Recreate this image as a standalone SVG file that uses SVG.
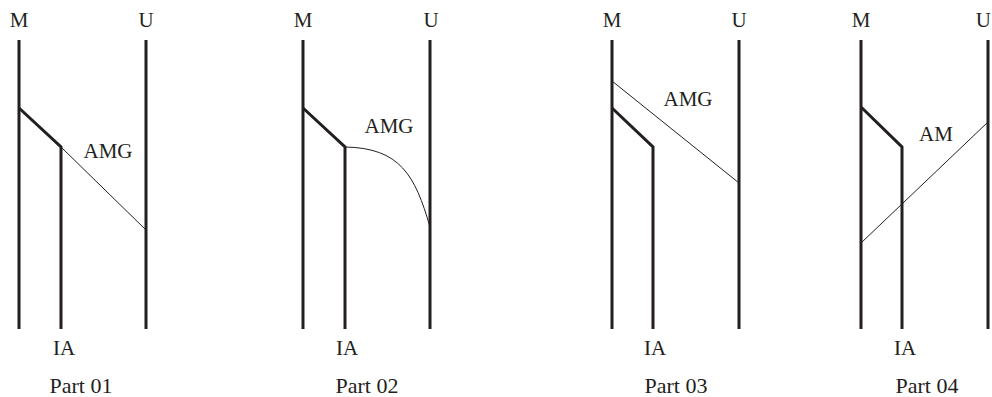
<svg xmlns="http://www.w3.org/2000/svg" width="992" height="397" viewBox="0 0 992 397">
<style>
.bg{fill:#ffffff}
.thick{stroke:#231f20;stroke-width:3;fill:none;stroke-linejoin:miter}
.thin{stroke:#231f20;stroke-width:1;fill:none}
text{font-family:"Liberation Serif","Times New Roman",serif;fill:#231f20;font-size:21px;text-anchor:middle}
.cap{font-size:22px}
</style>
<rect class="bg" x="0" y="0" width="992" height="397"/>

<g id="part01">
  <g id="p1-M"><line class="thick" x1="19" y1="40" x2="19" y2="329"/><text x="19" y="27">M</text></g>
  <g id="p1-U"><line class="thick" x1="146" y1="40" x2="146" y2="329"/><text x="146" y="27">U</text></g>
  <g id="p1-IA"><polyline class="thick" points="19,108 61,147 61,329"/><text x="64" y="355">IA</text></g>
  <g id="p1-conn"><line class="thin" x1="61" y1="147" x2="146" y2="230"/><text x="108" y="158">AMG</text></g>
  <text class="cap" x="81" y="393">Part 01</text>
</g>

<g id="part02">
  <g id="p2-M"><line class="thick" x1="303" y1="40" x2="303" y2="329"/><text x="303" y="27">M</text></g>
  <g id="p2-U"><line class="thick" x1="430" y1="40" x2="430" y2="329"/><text x="431" y="27">U</text></g>
  <g id="p2-IA"><polyline class="thick" points="303,108 345,147 345,329"/><text x="347" y="355">IA</text></g>
  <g id="p2-conn"><path class="thin" d="M345,147 C400,148 415,175 430,227"/><text x="389" y="133">AMG</text></g>
  <text class="cap" x="367" y="393">Part 02</text>
</g>

<g id="part03">
  <g id="p3-M"><line class="thick" x1="612" y1="40" x2="612" y2="329"/><text x="612" y="27">M</text></g>
  <g id="p3-U"><line class="thick" x1="739" y1="40" x2="739" y2="329"/><text x="739" y="27">U</text></g>
  <g id="p3-IA"><polyline class="thick" points="612,108 653,147 653,329"/><text x="655" y="355">IA</text></g>
  <g id="p3-conn"><line class="thin" x1="612" y1="81" x2="739" y2="183"/><text x="688" y="106">AMG</text></g>
  <text class="cap" x="676" y="393">Part 03</text>
</g>

<g id="part04">
  <g id="p4-M"><line class="thick" x1="861" y1="40" x2="861" y2="329"/><text x="861" y="27">M</text></g>
  <g id="p4-U"><line class="thick" x1="988" y1="40" x2="988" y2="329"/><text x="991" y="27" style="text-anchor:end">U</text></g>
  <g id="p4-IA"><polyline class="thick" points="861,107 902,147 902,329"/><text x="905" y="355">IA</text></g>
  <g id="p4-conn"><line class="thin" x1="861" y1="243" x2="988" y2="122"/><text x="936" y="141">AM</text></g>
  <text class="cap" x="927" y="393">Part 04</text>
</g>
</svg>
